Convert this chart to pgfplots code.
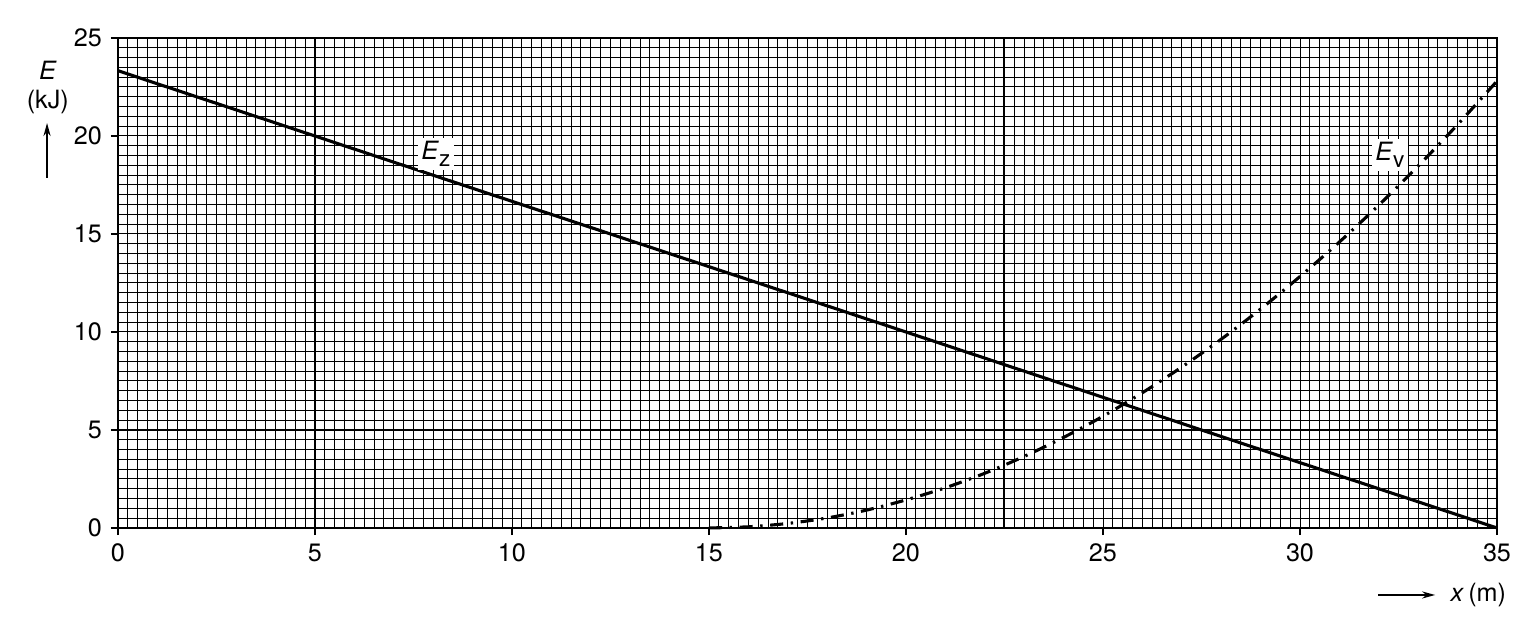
\documentclass[border=0pt]{standalone}
\usepackage{fontspec}
\setmainfont{TeX Gyre Heros}
\usepackage{pgfplots}
\pgfplotsset{compat=1.18}
\usetikzlibrary{arrows.meta}
\newcommand{\sub}[1]{\raisebox{-2.8pt}{\fontsize{9.5}{10}\selectfont #1}}
\begin{document}
\fontsize{10.6}{12.7}\selectfont
\begin{tikzpicture}
\begin{axis}[
  name=ax,
  scale only axis,
  width=20.41cm, height=7.252cm,
  xmin=0, xmax=35, ymin=0, ymax=25,
  xtick={0,5,...,35}, ytick={0,5,...,25},
  minor x tick num=19, minor y tick num=9,
  grid=both,
  major grid style={black, line width=0.4pt},
  minor grid style={black, line width=0.4pt},
  tick align=outside,
  xtick pos=left, ytick pos=left,
  major tick length=3pt, minor tick length=0pt,
  tick style={black, line width=1pt},
  axis line style={line width=1pt},
  /pgf/number format/assume math mode=true,
  clip=false,
]
% reference lines
\addplot[black, line width=0.85pt] coordinates {(5,0) (5,25)};
\addplot[black, line width=0.85pt] coordinates {(22.5,0) (22.5,25)};
\addplot[black, line width=0.85pt] coordinates {(0,5) (35,5)};
% E_z
\addplot[black, line width=1.3pt] coordinates {(0,23.33) (35,0)};
% E_v
\addplot[black, line width=1.3pt, dash pattern=on 5.5pt off 3.2pt on 1pt off 3.2pt, smooth] coordinates {
  (15,0) (16,0.06) (17,0.23) (18,0.51) (19,0.91) (20,1.43) (21,2.05)
  (22,2.79) (23,3.65) (24,4.62) (25,5.70) (26,6.90) (27,8.21) (28,9.63)
  (29,11.17) (30,12.83) (31,14.59) (32,16.47) (33,18.47) (34,20.58) (35,22.80)};
\node[fill=white, inner sep=1.5pt] at (axis cs:8.07,19.1) {\textit{E}\sub{z}};
\node[fill=white, inner sep=1.5pt] at (axis cs:32.28,19.05) {\textit{E}\sub{v}};
% axis labels
\node at (axis cs:-1.78,23.37) {\textit{E}};
\node at (axis cs:-1.78,21.73) {(kJ)};
\draw[-{Stealth[length=5.5pt,width=3pt]}, line width=0.6pt] (axis cs:-1.80,17.86) -- (axis cs:-1.80,20.66);
\draw[-{Stealth[length=5.5pt,width=3pt]}, line width=0.6pt] (axis cs:31.98,-3.42) -- (axis cs:33.43,-3.42);
\node[anchor=west] at (axis cs:33.6,-3.42) {\textit{x}\,(m)};
\end{axis}
\pgfresetboundingbox
\path[use as bounding box] ([shift={(-1.746cm,-1.51cm)}]ax.south west) rectangle ([shift={(0.607cm,0.562cm)}]ax.north east);
\end{tikzpicture}
\end{document}
